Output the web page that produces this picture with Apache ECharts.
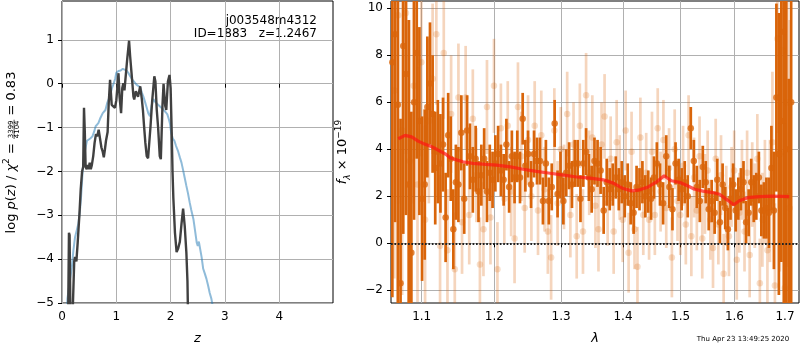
<!DOCTYPE html>
<html>
<head>
<meta charset="utf-8">
<script src="https://cdn.jsdelivr.net/npm/echarts@6/dist/echarts.min.js"></script>
<style>
html,body{margin:0;padding:0;background:#fff}
#chart{width:800px;height:350px}
</style>
</head>
<body>
<div id="chart"></div>
<script>
// ---- left panel: log p(z) ----
var zTicks = [0, 1, 2, 3, 4];
var pzTicks = [-5, -4, -3, -2, -1, 0, 1];
var blueZ = [0.07,0.10,0.15,0.18,0.21,0.24,0.27,0.30,0.33,0.35,0.37,0.39,0.42,0.44,0.46,0.49,0.52,0.56,0.59,0.62,
  0.67,0.70,0.75,0.80,0.83,0.86,0.89,0.92,0.95,0.98,1.00,1.04,1.08,1.12,1.15,1.19,1.22,1.25,1.29,1.33,
  1.37,1.40,1.44,1.47,1.50,1.53,1.56,1.59,1.62,1.65,1.68,1.72,1.77,1.80,1.84,1.87,1.91,1.94,1.97,1.99,
  2.01,2.04,2.07,2.10,2.14,2.17,2.20,2.23,2.26,2.29,2.32,2.35,2.38,2.42,2.45,2.48,2.50,2.52,2.55,2.57,
  2.60,2.63,2.66,2.69,2.72,2.75,2.78,2.82];
var blueLogP = [-6,-4.9,-4.45,-4.2,-3.8,-3.5,-3.35,-3.2,-2.9,-2.6,-2.2,-1.8,-1.55,-1.42,-1.3,-1.33,-1.25,-1.2,-1.1,-0.97,
  -0.9,-0.8,-0.67,-0.6,-0.45,-0.35,-0.25,-0.1,0.0,0.12,0.25,0.29,0.3,0.34,0.36,0.3,0.25,0.18,0.1,0.04,
  -0.02,-0.02,-0.08,-0.2,-0.3,-0.42,-0.55,-0.68,-0.74,-0.5,-0.35,-0.42,-0.48,-0.52,-0.56,-0.6,-0.65,-0.7,-0.82,-0.92,
  -1.12,-1.25,-1.3,-1.42,-1.55,-1.68,-1.8,-1.97,-2.15,-2.33,-2.5,-2.7,-2.88,-3.09,-3.35,-3.62,-3.7,-3.6,-3.6,-3.95,
  -4.22,-4.33,-4.45,-4.6,-4.77,-4.9,-5.1,-5.5];
var darkZ = [0.10,0.128,0.14,0.165,0.195,0.225,0.24,0.265,0.29,0.32,0.345,0.37,0.39,0.405,0.42,0.435,0.455,0.47,0.49,0.51,
  0.53,0.55,0.575,0.60,0.625,0.65,0.675,0.70,0.725,0.75,0.77,0.79,0.81,0.84,0.86,0.885,0.915,0.946,0.975,1.0,
  1.04,1.06,1.088,1.11,1.13,1.15,1.17,1.20,1.235,1.255,1.27,1.29,1.315,1.33,1.36,1.40,1.44,1.47,1.49,1.51,
  1.535,1.56,1.585,1.61,1.63,1.66,1.70,1.72,1.745,1.77,1.80,1.82,1.85,1.87,1.90,1.92,1.95,1.98,2.0,2.02,
  2.035,2.05,2.08,2.11,2.14,2.17,2.20,2.23,2.26,2.29,2.31,2.33];
var darkLogP = [-7,-3.4,-3.45,-6.5,-6.5,-4.05,-3.95,-4.05,-3.6,-3.0,-2.4,-2.0,-1.9,-0.55,-1.1,-1.9,-1.95,-1.85,-1.95,-1.8,
  -1.95,-1.85,-1.65,-1.35,-1.15,-1.2,-1.05,-1.25,-1.45,-1.55,-1.68,-1.5,-1.3,-1.1,-0.45,0.09,-0.48,-0.45,-0.55,-0.38,
  0.24,-0.3,-0.67,-0.1,0.01,-0.15,-0.17,0.55,0.98,0.62,0.65,0.1,-0.29,-0.36,-0.17,-0.3,-0.06,-0.35,-0.6,-0.95,
  -1.35,-1.65,-1.7,-1.72,-0.97,-0.4,0.17,0.05,-0.6,-1.0,-1.65,-1.72,-0.5,0.0,-0.5,-0.6,0.05,0.2,-0.1,-1.1,
  -2.0,-2.6,-3.4,-3.84,-3.75,-3.6,-3.2,-2.85,-3.25,-3.85,-4.5,-6];
var fieldName = 'j003548m4312';
var objInfo = 'ID=1883   z=1.2467';
var stamp = 'Thu Apr 23 13:49:25 2020';

// ---- right panel: spectrum, rows of [wavelength, flux, error] ----
var lamTicks = [1.1, 1.2, 1.3, 1.4, 1.5, 1.6, 1.7];
var fluxTicks = [-2, 0, 2, 4, 6, 8, 10];
var darkSpec = [
  [1.062,7.7,10],[1.0655,8.9,8],[1.069,5.9,9],[1.0725,-1.7,7],[1.076,8.4,8],[1.0795,7.2,6],[1.083,2.5,7],[1.0865,-0.4,6],[1.090,6.0,5],[1.0935,8.1,4.5],
  [1.097,5.2,4],[1.1005,1.9,3.5],[1.104,2.5,3.2],[1.1075,5.8,3],[1.111,6.8,2.6],[1.1145,5.5,2.5],[1.118,3.2,2.4],[1.1215,3.9,2.2],[1.125,3.4,2.1],[1.1285,4.2,2.0],
  [1.132,1.1,1.9],[1.1355,4.6,1.8],[1.139,3.6,1.8],[1.1425,0.6,1.7],[1.146,2.6,1.6],[1.1495,2.5,1.6],
  [1.1535,4.7,1.6],[1.1575,1.9,1.5],[1.1615,4.8,1.5],[1.1655,3.7,1.4],[1.1695,2.7,1.4],[1.1735,3.6,1.4],[1.1775,2.2,1.3],[1.1815,2.9,1.3],[1.1855,3.6,1.3],[1.1895,2.2,1.3],
  [1.1935,3.0,1.2],[1.1975,2.7,1.2],[1.2015,3.4,1.2],[1.2055,3.8,1.2],[1.2095,3.1,1.1],[1.2135,2.7,1.1],[1.2175,4.2,1.1],[1.2215,2.4,1.1],[1.2255,3.7,1.1],[1.2295,2.8,1.1],
  [1.2335,3.7,1.1],[1.2375,2.8,1.1],[1.2415,5.3,1.1],[1.2455,3.3,1.1],[1.2495,3.8,1.0],
  [1.254,2.5,1.0],[1.2585,3.8,1.0],[1.263,3.5,1.0],[1.2675,3.5,1.0],[1.272,1.8,1.0],[1.2765,3.4,1.0],[1.281,1.8,1.0],[1.2855,2.4,1.0],[1.290,5.1,1.0],[1.2945,2.1,1.0],
  [1.299,2.9,1.0],[1.3035,1.8,1.0],[1.308,3.0,1.0],[1.3125,3.3,1.0],[1.317,2.5,1.0],[1.3215,3.4,1.0],[1.326,3.4,1.0],[1.3305,1.9,1.0],[1.335,3.4,1.0],[1.3395,3.9,1.0],
  [1.344,2.8,1.0],[1.3485,2.3,1.0],[1.353,3.5,1.0],
  [1.358,3.4,1.0],[1.363,3.1,1.0],[1.368,1.4,1.0],[1.373,2.6,1.0],[1.378,2.3,0.9],[1.383,2.5,0.9],[1.388,2.8,0.9],[1.393,2.3,0.9],[1.398,2.6,0.9],[1.403,2.0,0.9],
  [1.408,2.5,0.9],[1.413,1.7,0.9],[1.418,1.3,0.9],[1.423,2.4,0.9],[1.428,2.3,0.9],[1.433,2.6,0.9],[1.438,2.0,0.9],[1.443,2.2,0.9],[1.448,1.9,0.9],[1.453,2.8,0.9],
  [1.458,3.4,0.9],
  [1.4635,2.5,0.9],[1.469,1.7,0.9],[1.4745,3.7,0.9],[1.48,2.4,0.9],[1.4855,1.45,0.9],[1.491,3.4,0.9],[1.4965,2.7,0.9],[1.502,2.3,0.9],[1.5075,2.6,0.9],[1.513,2.0,0.9],
  [1.5185,4.9,0.9],[1.524,3.5,0.9],[1.5295,2.4,0.9],[1.535,1.8,0.9],[1.5405,3.25,0.9],[1.546,2.6,0.9],[1.5515,1.45,0.9],[1.557,1.8,0.9],[1.5625,1.3,0.9],
  [1.5675,2.7,0.9],[1.5725,0.9,0.9],[1.5775,2.5,0.9],[1.5825,1.5,0.9],[1.5875,0.6,0.9],[1.5925,1.9,0.9],[1.5975,2.5,0.9],[1.6025,1.4,0.9],[1.6075,1.9,0.9],[1.6125,2.3,0.9],
  [1.6175,2.6,0.9],[1.6225,0.9,0.9],[1.6275,1.3,1.0],[1.6325,2.6,1.0],[1.6375,1.9,1.0],[1.6425,2.0,1.0],[1.6475,2.8,1.1],[1.6525,1.4,1.1],[1.6575,1.4,1.2],[1.6625,1.5,1.3],
  [1.6675,1.3,1.5],[1.6725,3.2,1.8],[1.6775,1.4,2.5],[1.6825,6.2,4.0],[1.6875,3.8,6],[1.6925,5.2,6],[1.6975,9.0,12],[1.7025,4.0,10],[1.7075,2.0,5],[1.7125,6.0,9]
];
var lightSpec = [
  [1.0645,6.5,8],[1.0695,9.7,8],[1.0745,4.8,7],[1.0795,9.8,6],[1.0845,3.5,6],[1.0895,6.7,5],[1.0945,2.5,5],[1.0995,7.7,4],[1.1045,1.0,4],[1.1095,5.2,3.5],
  [1.1145,7.0,3.2],[1.1195,8.9,3],[1.1245,-0.1,3],[1.1295,8.1,2.8],[1.1345,-0.3,2.6],[1.1395,5.5,2.5],[1.1445,-1.1,2.4],[1.1495,6.2,2.3],[1.1545,0.9,2.2],[1.1595,6.2,2.2],
  [1.1645,1.2,2.1],[1.1695,5.3,2.1],[1.1745,2.9,2.0],[1.1795,-0.9,2.0],[1.1845,0.6,2.0],[1.1895,5.8,2.0],[1.1945,1.1,2.0],[1.1995,6.7,2.0],[1.2045,-1.1,2.0],[1.2095,4.9,1.9],
  [1.2145,1.9,1.9],[1.2195,5.0,1.9],[1.2245,2.2,1.9],[1.2295,0.2,1.9],[1.2345,5.8,1.9],[1.2395,3.7,1.9],[1.2445,1.5,1.9],[1.2495,4.4,1.9],[1.2545,2.0,1.9],[1.2595,5.0,1.9],
  [1.2645,1.4,1.9],[1.2695,4.6,1.9],[1.2745,2.3,1.8],[1.2795,0.5,1.8],[1.2845,-0.6,1.8],[1.2895,4.8,1.8],[1.2945,1.7,1.8],[1.2995,4.0,1.8],[1.3045,2.4,1.8],[1.3095,5.5,1.8],
  [1.3145,1.2,1.8],[1.3195,4.2,1.8],[1.3245,0.3,1.8],[1.3295,5.0,1.8],[1.3345,0.5,1.8],[1.3395,6.3,1.8],[1.3445,3.0,1.8],[1.3495,4.5,1.8],[1.3545,1.6,1.8],[1.3595,0.6,1.8],
  [1.3645,4.2,1.8],[1.3695,5.4,1.8],[1.3745,1.7,1.8],[1.3795,3.6,1.8],[1.3845,0.5,1.8],[1.3895,4.3,1.8],[1.3945,2.8,1.8],[1.3995,1.0,1.8],[1.4045,4.8,1.7],[1.4095,-0.4,1.7],
  [1.4145,3.9,1.7],[1.4195,0.6,1.7],[1.4245,-1.0,1.7],[1.4295,4.5,1.7],[1.4345,1.2,1.7],[1.4395,3.0,1.7],[1.4445,1.0,1.7],[1.4495,3.9,1.7],[1.4545,1.2,1.7],[1.4595,4.9,1.7],
  [1.4645,2.2,1.7],[1.4695,4.4,1.7],[1.4745,1.5,1.7],[1.4795,3.2,1.7],[1.4845,-0.6,1.7],[1.4895,4.0,1.7],[1.4945,1.8,1.7],[1.4995,1.2,1.7],[1.5045,3.3,1.7],[1.5095,0.8,1.7],
  [1.5145,4.6,1.7],[1.5195,0.3,1.7],[1.5245,2.8,1.7],[1.5295,1.4,1.7],[1.5345,3.7,1.7],[1.5395,0.2,1.7],[1.5445,2.1,1.7],[1.5495,3.1,1.7],[1.5545,1.0,1.7],[1.5595,-0.2,1.7],
  [1.5645,3.6,1.7],[1.5695,0.8,1.7],[1.5745,2.9,1.7],[1.5795,-1.3,1.7],[1.5845,1.6,1.7],[1.5895,0.3,1.7],[1.5945,2.4,1.7],[1.5995,3.1,1.7],[1.6045,-0.7,1.7],[1.6095,1.3,1.7],
  [1.6145,2.7,1.7],[1.6195,0.5,1.7],[1.6245,3.0,1.8],[1.6295,-0.5,1.8],[1.6345,2.5,1.8],[1.6395,1.6,1.8],[1.6445,3.6,1.9],[1.6495,-1.7,1.9],[1.6545,1.0,2.0],[1.6595,2.2,2.2],
  [1.6645,-0.3,2.4],[1.6695,1.8,2.6],[1.6745,4.3,3],[1.6795,-1.8,3.5],[1.6845,8.7,4],[1.6895,3.8,5],[1.6945,8.2,6],[1.6995,-1.9,7],[1.7045,6.0,7],[1.7095,1.5,8]
];
var modelWave = [1.0696,1.0783,1.0868,1.0954,1.1019,1.111,1.12,1.1323,1.138,1.147,1.1557,1.1694,1.188,1.2032,1.2234,1.2419,1.2621,1.2829,1.3037,1.3247,
  1.3458,1.3674,1.3839,1.4004,1.4144,1.4257,1.4429,1.4574,1.4708,1.475,1.4839,1.5,1.5134,1.5254,1.5407,1.5593,1.5716,1.5841,1.5986,1.6095,
  1.6255,1.6485,1.6749,1.7087];
var modelFlux = [4.45,4.59,4.53,4.35,4.25,4.14,4.0,3.79,3.64,3.55,3.47,3.4,3.36,3.33,3.25,3.15,3.06,2.98,2.9,2.82,
  2.77,2.7,2.56,2.33,2.23,2.26,2.4,2.61,2.87,2.8,2.66,2.58,2.44,2.3,2.22,2.16,2.09,1.88,1.64,1.81,
  1.94,1.99,2.01,1.99];

var FONT = '"DejaVu Sans", sans-serif';
var DARK = '#d9650a';
var LIGHT = 'rgba(217,101,10,0.27)';

function zip(a, b) { return a.map(function (v, i) { return [v, b[i]]; }); }
function minus(v) { return String(v).replace('-', '\u2212'); }

function errorBars(color, w) {
  return function (params, api) {
    var cs = params.coordSys;
    var x = api.value(0), f = api.value(1), e = api.value(2);
    var lo = api.coord([x, f - e]), hi = api.coord([x, f + e]);
    var top = cs.y, bot = cs.y + cs.height;
    return {
      type: 'line',
      shape: { x1: lo[0], y1: Math.max(hi[1], top), x2: lo[0], y2: Math.min(lo[1], bot) },
      style: { stroke: color, lineWidth: w }
    };
  };
}

function axis(grid, opt) {
  var a = {
    gridIndex: grid,
    axisLine: { show: false },
    axisTick: { show: true, length: 4, lineStyle: { color: '#000', width: 1 }, customValues: opt.ticks },
    axisLabel: { customValues: opt.ticks, fontFamily: FONT, fontSize: 12, color: '#000', margin: 8, formatter: opt.fmt },
    splitLine: { show: true, lineStyle: { color: '#b0b0b0', width: 1 } }
  };
  for (var k in opt) if (k !== 'ticks' && k !== 'fmt') a[k] = opt[k];
  return a;
}

// left y label with a stacked fraction, built as rotated text pieces
var mc = document.createElement('canvas').getContext('2d');
function tw(t, size, italic) {
  mc.font = (italic ? 'italic ' : '') + size + 'px "DejaVu Sans"';
  return mc.measureText(t).width;
}
var pieces = [['log ', 13, false, 0], ['p', 13, true, 0], ['(', 13, false, 0], ['z', 13, true, 0], [') / ', 13, false, 0],
  ['\u03c7', 13, true, 0], ['2', 9, false, -4.5], [' = ', 13, false, 0], 'frac', [' = 0.83', 13, false, 0]];
var fracW = tw('3399', 7, false) + 1.5;
var total = 0;
pieces.forEach(function (p) { total += p === 'frac' ? fracW : tw(p[0], p[1], p[2]); });
var cx = -total / 2, kids = [];
pieces.forEach(function (p) {
  if (p === 'frac') {
    kids.push({ type: 'line', shape: { x1: cx, y1: 2.6, x2: cx + fracW, y2: 2.6 }, style: { stroke: '#000', lineWidth: 0.7 } });
    kids.push({ type: 'text', x: cx + fracW / 2, y: -0.3, style: { text: '3399', font: '7px "DejaVu Sans"', fill: '#000', textAlign: 'center', textVerticalAlign: 'middle', align: 'center', verticalAlign: 'middle' } });
    kids.push({ type: 'text', x: cx + fracW / 2, y: 5.6, style: { text: '4104', font: '7px "DejaVu Sans"', fill: '#000', textAlign: 'center', textVerticalAlign: 'middle', align: 'center', verticalAlign: 'middle' } });
    cx += fracW;
  } else {
    kids.push({ type: 'text', x: cx, y: p[3], style: { text: p[0], font: (p[2] ? 'italic ' : '') + p[1] + 'px "DejaVu Sans"', fill: '#000', textAlign: 'left', textVerticalAlign: 'middle', align: 'left', verticalAlign: 'middle' } });
    cx += tw(p[0], p[1], p[2]);
  }
});

var chart = echarts.init(document.getElementById('chart'), null, { renderer: 'canvas' });
chart.setOption({
  animation: false,
  backgroundColor: '#fff',
  grid: [
    { left: 62, top: 1, width: 271, height: 303, show: true, borderColor: '#000', borderWidth: 1, backgroundColor: 'transparent' },
    { left: 391, top: 1, width: 408, height: 303, show: true, borderColor: '#000', borderWidth: 1, backgroundColor: 'transparent' }
  ],
  xAxis: [
    axis(0, { type: 'value', min: 0, max: 4.99, ticks: zTicks, fmt: minus,
      name: 'z', nameLocation: 'middle', nameGap: 29, nameTextStyle: { fontFamily: FONT, fontStyle: 'italic', fontSize: 13, color: '#000' } }),
    axis(1, { type: 'log', logBase: 10, min: 1.0603, max: 1.7287, ticks: lamTicks, fmt: function (v) { return v.toFixed(1); },
      name: '\u03bb', nameLocation: 'middle', nameGap: 29, nameTextStyle: { fontFamily: FONT, fontStyle: 'italic', fontSize: 13, color: '#000' } })
  ],
  yAxis: [
    axis(0, { type: 'value', min: -5, max: 1.886, ticks: pzTicks, fmt: minus }),
    axis(1, { type: 'value', min: -2.54, max: 10.31, ticks: fluxTicks, fmt: minus,
      name: '{i|f}{sub|\u03bb}{n| \u00d7 10}{sup|\u221219}', nameLocation: 'middle', nameRotate: 90, nameGap: 39,
      nameTextStyle: {
        color: '#000', fontFamily: FONT,
        rich: {
          i: { fontFamily: FONT, fontStyle: 'italic', fontSize: 13, lineHeight: 18, color: '#000' },
          n: { fontFamily: FONT, fontSize: 13, lineHeight: 18, color: '#000' },
          sub: { fontFamily: FONT, fontStyle: 'italic', fontSize: 9, lineHeight: 10, verticalAlign: 'bottom', color: '#000' },
          sup: { fontFamily: FONT, fontSize: 9, lineHeight: 10, verticalAlign: 'top', color: '#000' }
        }
      } })
  ],
  series: [
    { type: 'line', xAxisIndex: 0, yAxisIndex: 0, data: zip(blueZ, blueLogP), symbol: 'none',
      lineStyle: { color: 'rgba(31,119,180,0.5)', width: 2 }, z: 2 },
    { type: 'line', xAxisIndex: 0, yAxisIndex: 0, data: zip(darkZ, darkLogP), symbol: 'none',
      lineStyle: { color: '#404040', width: 2.4 }, z: 3 },
    { type: 'custom', xAxisIndex: 1, yAxisIndex: 1, data: darkSpec, encode: { x: 0, y: 1 },
      renderItem: errorBars(DARK, 2.7), z: 2 },
    { type: 'scatter', xAxisIndex: 1, yAxisIndex: 1, data: darkSpec.map(function (r) { return [r[0], r[1]]; }),
      symbolSize: 6.5, itemStyle: { color: DARK }, z: 3 },
    { type: 'custom', xAxisIndex: 1, yAxisIndex: 1, data: lightSpec, encode: { x: 0, y: 1 },
      renderItem: errorBars(LIGHT, 2.7), z: 4 },
    { type: 'scatter', xAxisIndex: 1, yAxisIndex: 1, data: lightSpec.map(function (r) { return [r[0], r[1]]; }),
      symbolSize: 6.5, itemStyle: { color: LIGHT }, z: 4 },
    { type: 'line', xAxisIndex: 1, yAxisIndex: 1, data: zip(modelWave, modelFlux), symbol: 'none',
      lineStyle: { color: 'rgba(255,20,20,0.7)', width: 3.2 }, z: 5,
      markLine: { silent: true, symbol: 'none', label: { show: false },
        lineStyle: { color: '#222', type: [1.7, 1.7], width: 1.8 }, data: [{ yAxis: 0 }] } }
  ],
  graphic: [
    { type: 'group', x: 11.5, y: 152.5, rotation: Math.PI / 2, children: kids },
    { type: 'text', x: 317, y: 20.5, style: { text: fieldName, font: '12px "DejaVu Sans"', fill: '#000', textAlign: 'right', textVerticalAlign: 'middle', align: 'right', verticalAlign: 'middle' } },
    { type: 'text', x: 317, y: 33.5, style: { text: objInfo, font: '12px "DejaVu Sans"', fill: '#000', textAlign: 'right', textVerticalAlign: 'middle', align: 'right', verticalAlign: 'middle' } },
    { type: 'text', x: 743, y: 339.5, style: { text: stamp, font: '7px "DejaVu Sans"', fill: '#000', textAlign: 'center', textVerticalAlign: 'middle', align: 'center', verticalAlign: 'middle' } }
  ]
});
</script>
</body>
</html>
